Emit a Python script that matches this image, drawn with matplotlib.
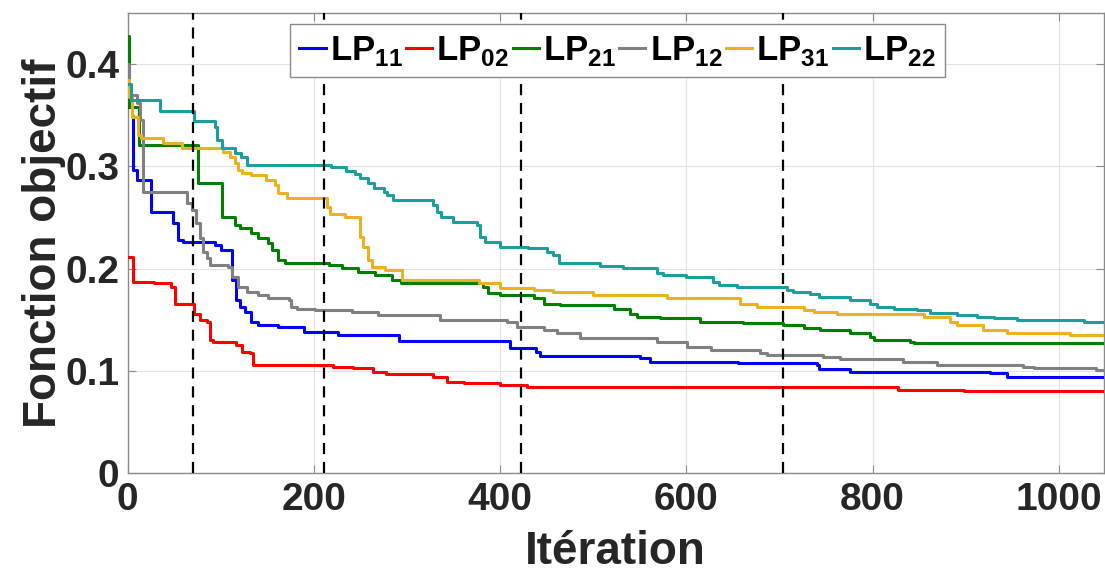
import matplotlib
matplotlib.use("Agg")
import matplotlib.pyplot as plt

plt.rcParams['font.family'] = ['Liberation Sans', 'DejaVu Sans']
plt.rcParams['mathtext.fontset'] = 'custom'
plt.rcParams['mathtext.bf'] = 'Liberation Sans:bold'
plt.rcParams['mathtext.rm'] = 'Liberation Sans:bold'

# ---------------- data (best-so-far objective vs iteration) ----------------
it_lp11 = [0, 4.5, 6.2, 9.9, 25, 49, 54.6, 60, 94, 100, 112.5, 117, 121, 126, 133, 140, 162, 190, 226, 291,
           411, 439, 443, 550, 561, 655, 740, 742, 776, 926, 944, 1050]
v_lp11 = [0.358, 0.349, 0.2965, 0.2867, 0.2557, 0.2444, 0.228, 0.2264, 0.2232, 0.2183, 0.189, 0.1694, 0.163,
          0.158, 0.148, 0.145, 0.1433, 0.1384, 0.1352, 0.129, 0.1222, 0.1189, 0.1147, 0.1124, 0.109, 0.1075,
          0.1059, 0.1017, 0.0993, 0.0977, 0.0944, 0.0944]

it_lp02 = [0, 6, 28, 47, 51, 71, 78, 85, 88.6, 92, 117, 123, 132, 135, 221, 242, 264, 278, 328, 343, 361,
           400, 429, 827, 898, 1050]
v_lp02 = [0.2117, 0.1873, 0.1857, 0.1824, 0.166, 0.156, 0.150, 0.148, 0.1303, 0.1286, 0.1254, 0.1189, 0.1173,
          0.1059, 0.1036, 0.1026, 0.0993, 0.097, 0.0944, 0.0895, 0.088, 0.0863, 0.0847, 0.0814, 0.0807, 0.0807]

it_lp21 = [0, 2, 12, 76, 101, 115, 121, 133, 140, 151, 155, 162, 169, 216, 230, 248, 266, 284, 294, 382, 387,
           400, 436, 447, 464, 522, 540, 547, 572, 615, 661, 704, 726, 744, 776, 797, 801, 840, 844, 1050]
v_lp21 = [0.428, 0.358, 0.321, 0.2835, 0.2508, 0.2427, 0.2395, 0.2346, 0.2297, 0.2248, 0.2183, 0.2085, 0.2053,
          0.2036, 0.2004, 0.197, 0.1938, 0.189, 0.1857, 0.1824, 0.176, 0.1743, 0.171, 0.166, 0.1645, 0.161,
          0.156, 0.153, 0.1515, 0.148, 0.1466, 0.145, 0.1417, 0.140, 0.1368, 0.1335, 0.1303, 0.1286, 0.127,
          0.127]

it_lp12 = [0, 2, 10, 13, 17, 64, 69, 74, 78, 81, 85, 88.6, 108, 112, 119, 128, 140, 151, 173, 176, 182, 201,
           241, 269, 336, 407, 418, 447, 461, 486, 568, 601, 626, 679, 687, 747, 765, 833, 869, 962, 973, 1040,
           1050]
v_lp12 = [0.40, 0.37, 0.3617, 0.345, 0.2753, 0.264, 0.2574, 0.2444, 0.230, 0.2166, 0.2102, 0.2036, 0.202,
          0.1922, 0.1824, 0.1775, 0.1743, 0.171, 0.1694, 0.163, 0.161, 0.1596, 0.158, 0.1547, 0.150, 0.148,
          0.1433, 0.140, 0.1368, 0.132, 0.1286, 0.1238, 0.1205, 0.1173, 0.1156, 0.114, 0.1117, 0.109, 0.1059,
          0.1042, 0.1026, 0.101, 0.101]

it_lp31 = [0, 2, 4.5, 11.6, 15, 38, 58, 103, 110, 115.5, 119, 123, 133, 149, 158, 162, 171, 214, 217.5, 234,
           250, 253, 258.6, 262, 277, 294.5, 377, 400, 436, 457, 500, 579, 658, 676, 726, 737, 762, 855, 883,
           891, 919, 944, 1012, 1035, 1050]
v_lp31 = [0.385, 0.368, 0.3486, 0.3307, 0.3275, 0.3226, 0.3185, 0.3144, 0.3095, 0.303, 0.2965, 0.2933, 0.2916,
          0.2867, 0.2818, 0.2737, 0.2688, 0.2606, 0.254, 0.2508, 0.2313, 0.2215, 0.2085, 0.202, 0.1987, 0.189,
          0.1857, 0.1808, 0.179, 0.1775, 0.1743, 0.171, 0.166, 0.163, 0.1596, 0.158, 0.156, 0.153, 0.148,
          0.145, 0.140, 0.1368, 0.135, 0.135, 0.135]

it_lp22 = [0, 4, 35, 71, 94, 96, 101, 115, 122, 128, 219, 235, 244, 250, 258, 265, 275, 279, 285, 328, 332,
           337, 350, 375, 379, 384, 400, 430, 450, 457, 463, 507, 532, 568, 575, 600, 629, 635, 654, 708, 715,
           733, 742, 776, 797, 805, 823, 848, 862, 891, 912, 930, 955, 1027, 1050]
v_lp22 = [0.381, 0.365, 0.3545, 0.344, 0.339, 0.326, 0.318, 0.313, 0.3095, 0.301, 0.2997, 0.296, 0.293,
          0.2884, 0.2835, 0.2786, 0.2753, 0.272, 0.267, 0.262, 0.2557, 0.2508, 0.246, 0.2427, 0.2313, 0.2264,
          0.2215, 0.220, 0.2166, 0.2134, 0.2053, 0.2026, 0.2004, 0.1955, 0.194, 0.1922, 0.1873, 0.184, 0.1824,
          0.179, 0.1775, 0.175, 0.1726, 0.1694, 0.166, 0.163, 0.161, 0.1596, 0.1564, 0.1547, 0.153, 0.1515,
          0.150, 0.148, 0.148]

labels = [r'$\mathbf{LP}_{\mathbf{11}}$', r'$\mathbf{LP}_{\mathbf{02}}$', r'$\mathbf{LP}_{\mathbf{21}}$',
          r'$\mathbf{LP}_{\mathbf{12}}$', r'$\mathbf{LP}_{\mathbf{31}}$', r'$\mathbf{LP}_{\mathbf{22}}$']
colors = ['#0000ff', '#ff0000', '#008000', '#808080', '#edb120', '#1a9e9e']
vlines = [70, 211, 422, 704]
xticks = [0, 200, 400, 600, 800, 1000]
yticks = [0, 0.1, 0.2, 0.3, 0.4]
ytick_labels = ['0', '0.1', '0.2', '0.3', '0.4']

# ---------------- figure ----------------
fig = plt.figure(figsize=(11.05, 5.78), dpi=100)
ax = fig.add_axes([0.1154, 0.181, 0.8833, 0.7965])

series = [(it_lp11, v_lp11), (it_lp02, v_lp02), (it_lp21, v_lp21),
          (it_lp12, v_lp12), (it_lp31, v_lp31), (it_lp22, v_lp22)]
for (xs, ys), c, lab in zip(series, colors, labels):
    ax.step(xs, ys, where='post', color=c, lw=2.2, label=lab, zorder=3)

for xv in vlines:
    ax.axvline(xv, color='black', lw=1.6, linestyle=(0, (5, 3.5)), zorder=4)

ax.set_xlim(0, 1048)
ax.set_ylim(0, 0.45)
ax.set_xticks(xticks)
ax.set_yticks(yticks)
ax.set_yticklabels(ytick_labels)
ax.grid(True, color='#e3e3e3', lw=0.8, zorder=0)
ax.set_axisbelow(True)
for s in ax.spines.values():
    s.set_color('#8a8a8a')
    s.set_linewidth(1.0)
ax.tick_params(direction='in', length=6, width=0.8, color='#8a8a8a',
               top=True, right=True, labelsize=28, labelcolor='#262626', pad=6)
for lab in ax.get_xticklabels() + ax.get_yticklabels():
    lab.set_fontweight('bold')

ax.set_xlabel('Itération', fontsize=33, fontweight='bold', color='#262626', labelpad=9)
ax.set_ylabel('Fonction objectif', fontsize=33, fontweight='bold', color='#262626', labelpad=-1)

leg = ax.legend(loc='upper center', bbox_to_anchor=(0.502, 0.976), ncol=6, fontsize=25,
                handlelength=0.75, handletextpad=0.12, columnspacing=0.1, borderpad=0.28,
                borderaxespad=0, frameon=True, fancybox=False, framealpha=1)
leg.get_frame().set_edgecolor('#8a8a8a')
leg.get_frame().set_linewidth(1.0)
leg.set_zorder(5)

fig.savefig('out.png', dpi=100)
